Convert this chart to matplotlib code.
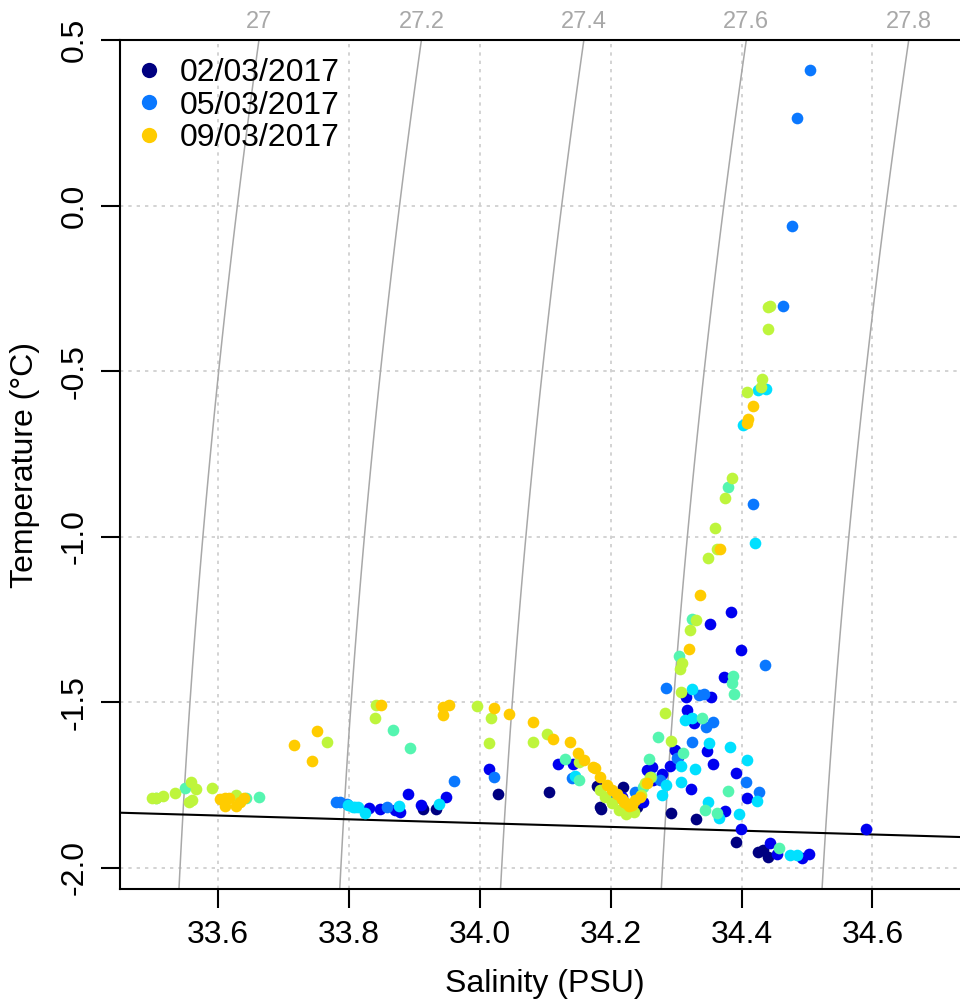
import numpy as np
import matplotlib
matplotlib.use("Agg")
import matplotlib.pyplot as plt
import matplotlib.transforms as mtransforms
from matplotlib.lines import Line2D

plt.rcParams['font.family'] = ['Liberation Sans', 'DejaVu Sans']

# ---- data (salinity PSU, temperature degC) ----
group_colors = ["#000080", "#0000F0", "#0A78FF", "#00E0FF", "#55F5B0", "#BEF53C", "#FFCC00"]
group_labels = ["02/03/2017", None, "05/03/2017", None, None, None, "09/03/2017"]

sal_navy = [34.292, 34.331, 34.391, 34.433, 34.441, 34.106, 34.028, 33.933, 33.914, 34.184,
            34.186, 34.219, 34.240, 34.179, 34.425]
tmp_navy = [-1.834, -1.852, -1.922, -1.947, -1.967, -1.772, -1.777, -1.821, -1.823, -1.816,
            -1.821, -1.755, -1.816, -1.753, -1.952]

sal_blue = [34.384, 34.352, 34.399, 34.373, 34.315, 34.353, 34.317, 34.327, 34.298, 34.347,
            34.303, 34.357, 34.290, 34.255, 34.263, 34.391, 34.278, 34.323, 34.408, 34.375,
            34.399, 34.590, 34.443, 34.454, 34.492, 34.503, 34.120, 34.143, 34.014, 33.949,
            33.910, 33.890, 33.878, 33.870, 33.848, 33.831, 34.265, 34.250, 34.217]
tmp_blue = [-1.227, -1.264, -1.342, -1.424, -1.485, -1.485, -1.523, -1.564, -1.644, -1.647,
            -1.665, -1.685, -1.693, -1.705, -1.695, -1.715, -1.717, -1.761, -1.789, -1.829,
            -1.883, -1.884, -1.926, -1.957, -1.969, -1.959, -1.685, -1.687, -1.703, -1.785,
            -1.811, -1.778, -1.831, -1.826, -1.823, -1.818, -1.735, -1.801, -1.785]

sal_azure = [34.504, 34.484, 34.477, 34.463, 34.418, 34.436, 34.285, 34.335, 34.343, 34.345,
             34.356, 34.324, 34.301, 34.407, 34.427, 34.141, 34.022, 33.961, 33.858, 33.797,
             33.786, 33.781, 34.204, 34.237, 34.275]
tmp_azure = [0.408, 0.263, -0.063, -0.303, -0.900, -1.388, -1.456, -1.477, -1.476, -1.576,
             -1.560, -1.619, -1.668, -1.740, -1.772, -1.730, -1.727, -1.738, -1.816, -1.808,
             -1.801, -1.801, -1.795, -1.770, -1.735]

sal_cyan = [34.438, 34.425, 34.402, 34.421, 34.325, 34.314, 34.325, 34.351, 34.382, 34.408,
            34.307, 34.329, 34.307, 34.285, 34.423, 34.349, 34.366, 34.396, 34.474, 34.484,
            34.145, 33.937, 33.876, 33.824, 33.814, 33.806, 33.799, 33.809, 34.278]
tmp_cyan = [-0.555, -0.557, -0.664, -1.018, -1.459, -1.554, -1.548, -1.622, -1.636, -1.675,
            -1.693, -1.703, -1.740, -1.750, -1.798, -1.801, -1.851, -1.838, -1.960, -1.962,
            -1.723, -1.807, -1.814, -1.834, -1.816, -1.816, -1.811, -1.816, -1.780]

sal_aqua = [34.380, 34.324, 34.304, 34.387, 34.386, 34.389, 34.340, 34.273, 34.311, 34.259,
            34.261, 34.379, 34.344, 34.362, 34.458, 34.131, 34.152, 33.867, 33.893, 33.550,
            33.643, 33.662, 33.505, 34.250]
tmp_aqua = [-0.851, -1.250, -1.360, -1.420, -1.443, -1.475, -1.547, -1.606, -1.654, -1.670,
            -1.725, -1.767, -1.824, -1.833, -1.940, -1.672, -1.735, -1.584, -1.637, -1.760,
            -1.790, -1.787, -1.789, -1.755]

sal_ygreen = [34.444, 34.440, 34.440, 34.432, 34.429, 34.408, 34.385, 34.375, 34.360, 34.363,
              34.349, 34.330, 34.322, 34.309, 34.306, 34.307, 34.283, 34.292, 33.842, 33.840,
              33.996, 34.017, 34.014, 34.082, 34.102, 34.152, 33.766, 33.499, 33.506, 33.516,
              33.534, 33.559, 33.566, 33.555, 33.560, 33.591, 33.628, 34.184, 34.191, 34.202,
              34.212, 34.224, 34.235, 34.247, 34.260, 34.252]
tmp_ygreen = [-0.303, -0.306, -0.372, -0.524, -0.547, -0.563, -0.822, -0.882, -0.974, -1.038,
              -1.065, -1.251, -1.282, -1.382, -1.401, -1.470, -1.532, -1.616, -1.508, -1.549,
              -1.511, -1.549, -1.622, -1.619, -1.596, -1.680, -1.619, -1.790, -1.789, -1.783,
              -1.775, -1.740, -1.763, -1.801, -1.795, -1.760, -1.780, -1.765, -1.785, -1.805,
              -1.826, -1.836, -1.831, -1.780, -1.727, -1.743]

sal_gold = [34.417, 34.410, 34.408, 34.367, 34.336, 34.320, 33.849, 33.944, 33.953, 33.944,
            34.022, 34.045, 34.082, 34.112, 34.138, 34.150, 34.159, 34.176, 33.752, 33.716,
            33.744, 33.603, 33.611, 33.617, 33.610, 33.628, 33.634, 33.640, 34.173, 34.184,
            34.194, 34.202, 34.209, 34.217, 34.224, 34.232, 34.237, 34.245, 34.255, 34.228,
            34.220]
tmp_gold = [-0.605, -0.645, -0.657, -1.037, -1.175, -1.340, -1.508, -1.513, -1.508, -1.539,
            -1.518, -1.534, -1.559, -1.611, -1.621, -1.654, -1.673, -1.700, -1.587, -1.629,
            -1.677, -1.793, -1.788, -1.788, -1.813, -1.813, -1.801, -1.790, -1.695, -1.725,
            -1.750, -1.765, -1.777, -1.793, -1.805, -1.811, -1.795, -1.785, -1.743, -1.812,
            -1.800]

sal_groups = [sal_navy, sal_blue, sal_azure, sal_cyan, sal_aqua, sal_ygreen, sal_gold]
tmp_groups = [tmp_navy, tmp_blue, tmp_azure, tmp_cyan, tmp_aqua, tmp_ygreen, tmp_gold]

sigma_levels = [27.0, 27.2, 27.4, 27.6, 27.8]
sal_ticks = [33.6, 33.8, 34.0, 34.2, 34.4, 34.6]
tmp_ticks = [-2.0, -1.5, -1.0, -0.5, 0.0, 0.5]


# UNESCO 1983 density at surface pressure -> sigma-theta
def sigma0(S, T):
    rw = (999.842594 + 6.793952e-2 * T - 9.095290e-3 * T**2 + 1.001685e-4 * T**3
          - 1.120083e-6 * T**4 + 6.536332e-9 * T**5)
    A = 8.24493e-1 - 4.0899e-3 * T + 7.6438e-5 * T**2 - 8.2467e-7 * T**3 + 5.3875e-9 * T**4
    B = -5.72466e-3 + 1.0227e-4 * T - 1.6546e-6 * T**2
    C = 4.8314e-4
    return rw + A * S + B * S**1.5 + C * S**2 - 1000.0


# surface freezing point (UNESCO)
def tfreeze(S):
    return -0.0575 * S + 1.710523e-3 * S**1.5 - 2.154996e-4 * S**2


XMIN, XMAX = 33.4503, 34.75
YMIN, YMAX = -2.064, 0.5

fig = plt.figure(figsize=(9.6, 10.06), dpi=100)
ax = fig.add_axes([120 / 960, 1 - 889 / 1006, (970.6 - 120) / 960, (889 - 40) / 1006])
ax.set_xlim(XMIN, XMAX)
ax.set_ylim(YMIN, YMAX)

# grid
for x in sal_ticks:
    ax.axvline(x, color='#CCCCCC', lw=1.2, ls=(0, (2, 3)), zorder=0)
for y in tmp_ticks:
    ax.axhline(y, color='#CCCCCC', lw=1.2, ls=(0, (2, 3)), zorder=0)

# isopycnals
sg = np.linspace(33.2, 35.0, 300)
tg = np.linspace(-2.3, 0.7, 300)
SS, TT = np.meshgrid(sg, tg)
ax.contour(SS, TT, sigma0(SS, TT), levels=sigma_levels, colors='#A8A8A8', linewidths=1.1, zorder=1)
blend = mtransforms.blended_transform_factory(ax.transData, ax.transAxes)
for lev in sigma_levels:
    s_top = np.interp(lev, sigma0(sg, YMAX), sg)
    lab = '27' if lev == 27.0 else f'{lev:g}'
    ax.text(s_top, 1 + 18 / 849, lab, transform=blend, ha='center', va='center',
            fontsize=17, color='#A8A8A8', clip_on=False)

# freezing line
sf = np.linspace(XMIN, XMAX, 50)
ax.plot(sf, tfreeze(sf), color='black', lw=1.5, zorder=2)

# data
for s, t, c in zip(sal_groups, tmp_groups, group_colors):
    ax.plot(s, t, 'o', color=c, markersize=8.4, markeredgewidth=0, zorder=3)

handles = [Line2D([], [], ls='none', marker='o', color=c, markersize=11, markeredgewidth=0)
           for c, l in zip(group_colors, group_labels) if l]
labels = [l for l in group_labels if l]
ax.legend(handles, labels, loc='upper left', bbox_to_anchor=(133 / 960, 1 - 58 / 1006),
          bbox_transform=fig.transFigure, frameon=False, fontsize=23, handlelength=1.0,
          handletextpad=0.45, labelspacing=0.08, borderpad=0, borderaxespad=0)

ax.set_xticks(sal_ticks)
ax.set_xticklabels([f'{v:.1f}' for v in sal_ticks])
ax.set_yticks(tmp_ticks)
ax.set_yticklabels([f'{v:.1f}' for v in tmp_ticks])
ax.tick_params(direction='out', length=14, width=1.5, labelsize=23, pad=8)
for lab in ax.get_yticklabels():
    lab.set_rotation(90)
    lab.set_va('center')
for sp in ax.spines.values():
    sp.set_linewidth(1.5)

ax.set_xlabel('Salinity (PSU)', fontsize=23, labelpad=14)
ax.set_ylabel('Temperature (°C)', fontsize=23, labelpad=14)

fig.savefig('out.png', dpi=100)
